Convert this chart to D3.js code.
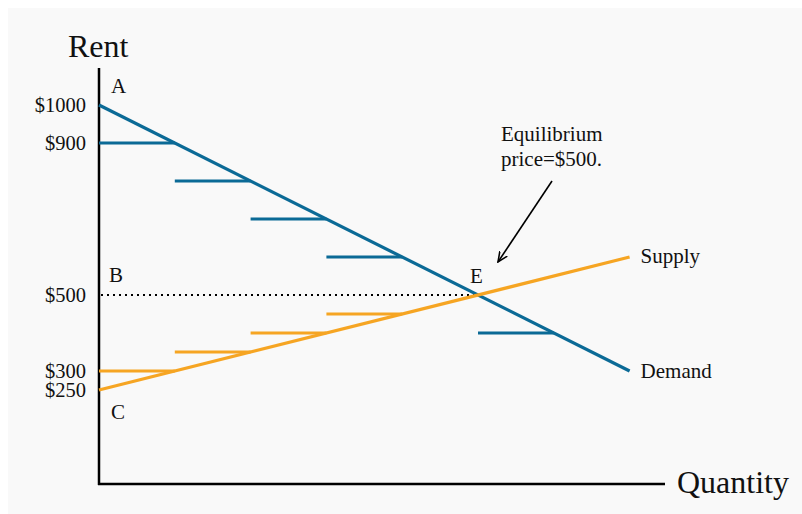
<!DOCTYPE html>
<html><head><meta charset="utf-8">
<script src="https://cdn.jsdelivr.net/npm/d3@7"></script>
<style>body{margin:0;background:#fff}svg{display:block}text{font-family:"Liberation Serif","Times New Roman",serif;fill:#111}</style>
</head><body><svg id="c" width="802" height="514"></svg>
<script>
// Data
const demandLine = [{q:0,p:1000},{q:7,p:300}];
const supplyLine = [{q:0,p:250},{q:7,p:600}];
const demandSteps = [{q0:0,q1:1,p:900},{q0:1,q1:2,p:800},{q0:2,q1:3,p:700},{q0:3,q1:4,p:600},{q0:5,q1:6,p:400}];
const supplySteps = [{q0:0,q1:1,p:300},{q0:1,q1:2,p:350},{q0:2,q1:3,p:400},{q0:3,q1:4,p:450}];
const tickValues = [1000,900,500,300,250];
const tickLabels = ["$1000","$900","$500","$300","$250"];
const equilibrium = {q:5,p:500};
const pointLabels = [{t:"A",q:0,p:1000},{t:"B",q:0,p:500},{t:"C",q:0,p:250},{t:"E",q:5,p:500}];

const svg = d3.select("#c");
svg.append("rect").attr("x",8).attr("y",8).attr("width",794).attr("height",506).attr("fill","#f9f9f9");

const x = d3.scaleLinear().domain([0,1]).range([99,174.8]);
const y = d3.scaleLinear().domain([0,1000]).range([485,105]);
const blue = "#0b6a96", orange = "#f6a523";

// axes
svg.append("line").attr("x1",99).attr("x2",99).attr("y1",68).attr("y2",485).attr("stroke","#000").attr("stroke-width",2.5);
svg.append("line").attr("x1",98).attr("x2",665).attr("y1",484).attr("y2",484).attr("stroke","#000").attr("stroke-width",2.5);
svg.append("text").attr("x",68).attr("y",57).attr("font-size",32).text("Rent");
svg.append("text").attr("x",677).attr("y",493).attr("font-size",32).text("Quantity");

// tick labels
svg.selectAll("text.tick").data(tickValues).join("text").attr("class","tick")
  .attr("x",86).attr("y",d=>y(d)).attr("dy","0.35em").attr("text-anchor","end").attr("font-size",20.5)
  .text((d,i)=>tickLabels[i]);

// dotted line
svg.append("line").attr("x1",101).attr("x2",x(equilibrium.q)).attr("y1",y(500)).attr("y2",y(500))
  .attr("stroke","#000").attr("stroke-width",2).attr("stroke-dasharray","2,4");

const line = d3.line().x(d=>x(d.q)).y(d=>y(d.p));
svg.selectAll("line.ds").data(demandSteps).join("line").attr("class","ds")
  .attr("x1",d=>x(d.q0)).attr("x2",d=>x(d.q1)).attr("y1",d=>y(d.p)).attr("y2",d=>y(d.p))
  .attr("stroke",blue).attr("stroke-width",3.2);
svg.selectAll("line.ss").data(supplySteps).join("line").attr("class","ss")
  .attr("x1",d=>x(d.q0)).attr("x2",d=>x(d.q1)).attr("y1",d=>y(d.p)).attr("y2",d=>y(d.p))
  .attr("stroke",orange).attr("stroke-width",3.2);
svg.append("path").attr("d",line(demandLine)).attr("fill","none").attr("stroke",blue).attr("stroke-width",3.2);
svg.append("path").attr("d",line(supplyLine)).attr("fill","none").attr("stroke",orange).attr("stroke-width",3.2);

svg.append("text").attr("x",x(7)+11).attr("y",y(600)).attr("dy","0.3em").attr("font-size",21).text("Supply");
svg.append("text").attr("x",x(7)+11).attr("y",y(300)).attr("dy","0.35em").attr("font-size",21).text("Demand");

// point labels
const off = {A:[12,-19],B:[10,-20],C:[12,22],E:[-8,-19]};
svg.selectAll("text.pl").data(pointLabels).join("text").attr("class","pl")
  .attr("x",d=>x(d.q)+off[d.t][0]).attr("y",d=>y(d.p)+off[d.t][1]).attr("dy","0.35em").attr("font-size",21)
  .text(d=>d.t);

// annotation
svg.append("defs").append("marker").attr("id","ah").attr("viewBox","0 0 10 10").attr("refX",9).attr("refY",5)
  .attr("markerWidth",7).attr("markerHeight",7).attr("orient","auto")
  .append("path").attr("d","M0,1 L9,5 L0,9").attr("fill","none").attr("stroke","#000").attr("stroke-width",1.4);
svg.append("line").attr("x1",552).attr("y1",181).attr("x2",498).attr("y2",262).attr("stroke","#000").attr("stroke-width",1.6).attr("marker-end","url(#ah)");
const ann = svg.append("text").attr("x",501).attr("font-size",21);
ann.append("tspan").attr("x",501).attr("y",141).text("Equilibrium");
ann.append("tspan").attr("x",501).attr("y",166).text("price=$500.");
</script></body></html>
